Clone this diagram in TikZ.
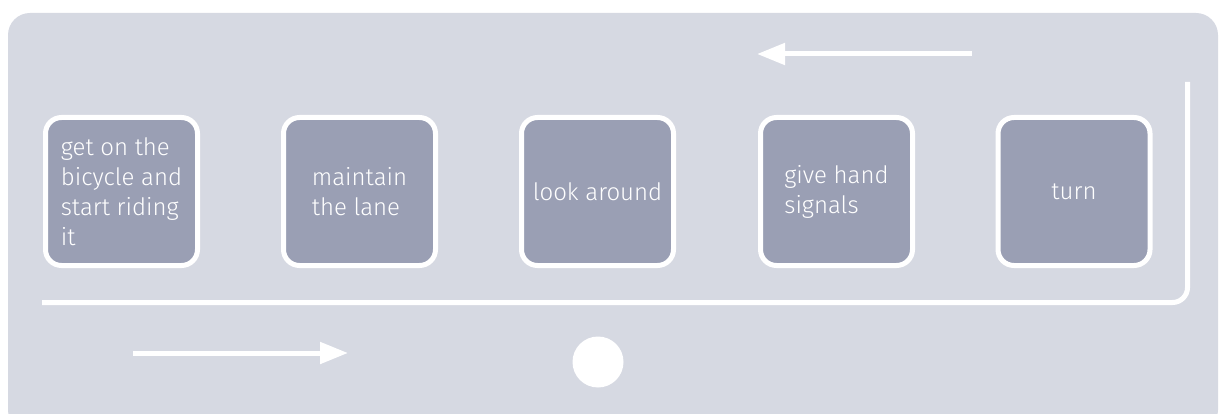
\documentclass[tikz,border=0pt]{standalone}
\usepackage{fontspec}
\setmainfont{Fira Sans Light}
\usetikzlibrary{arrows.meta}
\definecolor{panel}{HTML}{D6D9E2}
\definecolor{stepfill}{HTML}{9A9FB4}
\begin{document}
\begin{tikzpicture}[x=1pt,y=-1pt,
	stepbox/.style={draw=white,line width=5pt,fill=stepfill,rounded corners=16pt,minimum width=152pt,minimum height=148pt,text=white,align=left,font=\fontsize{24}{30}\selectfont},
	track/.style={draw=white,line width=5pt}]
		\useasboundingbox (0,0) rectangle (1220,414);
		\fill[panel,rounded corners=22pt] (8,13) rectangle (1218,432);
		% the five steps
		\node[stepbox] (mount)  at (121.5,191.5) {get on the\\bicycle and\\start riding\\it};
		\node[stepbox] (lane)   at (359.5,191.5) {maintain\\the lane};
		\node[stepbox] (look)   at (597.5,191.5) {look around};
		\node[stepbox] (signal) at (836.5,191.5) {give hand\\signals};
		\node[stepbox] (turn)   at (1074,191.5) {turn};
		% track round the steps
		\coordinate (track start) at (42,302.5);
		\coordinate (track end) at (1187.5,82);
		\draw[track,rounded corners=15pt] (track start) -| (track end);
		\coordinate (back from) at (972,54);
		\coordinate (back to) at (757,54);
		\draw[track,-{Triangle[length=28pt,width=21pt]}] (back from) -- (back to);
		\coordinate (go from) at (133,353);
		\coordinate (go to) at (348,353);
		\draw[track,-{Triangle[length=28pt,width=21pt]}] (go from) -- (go to);
		\node[circle,fill=white,minimum size=51pt,inner sep=0pt] (stop) at (598,362) {};
\end{tikzpicture}
\end{document}
